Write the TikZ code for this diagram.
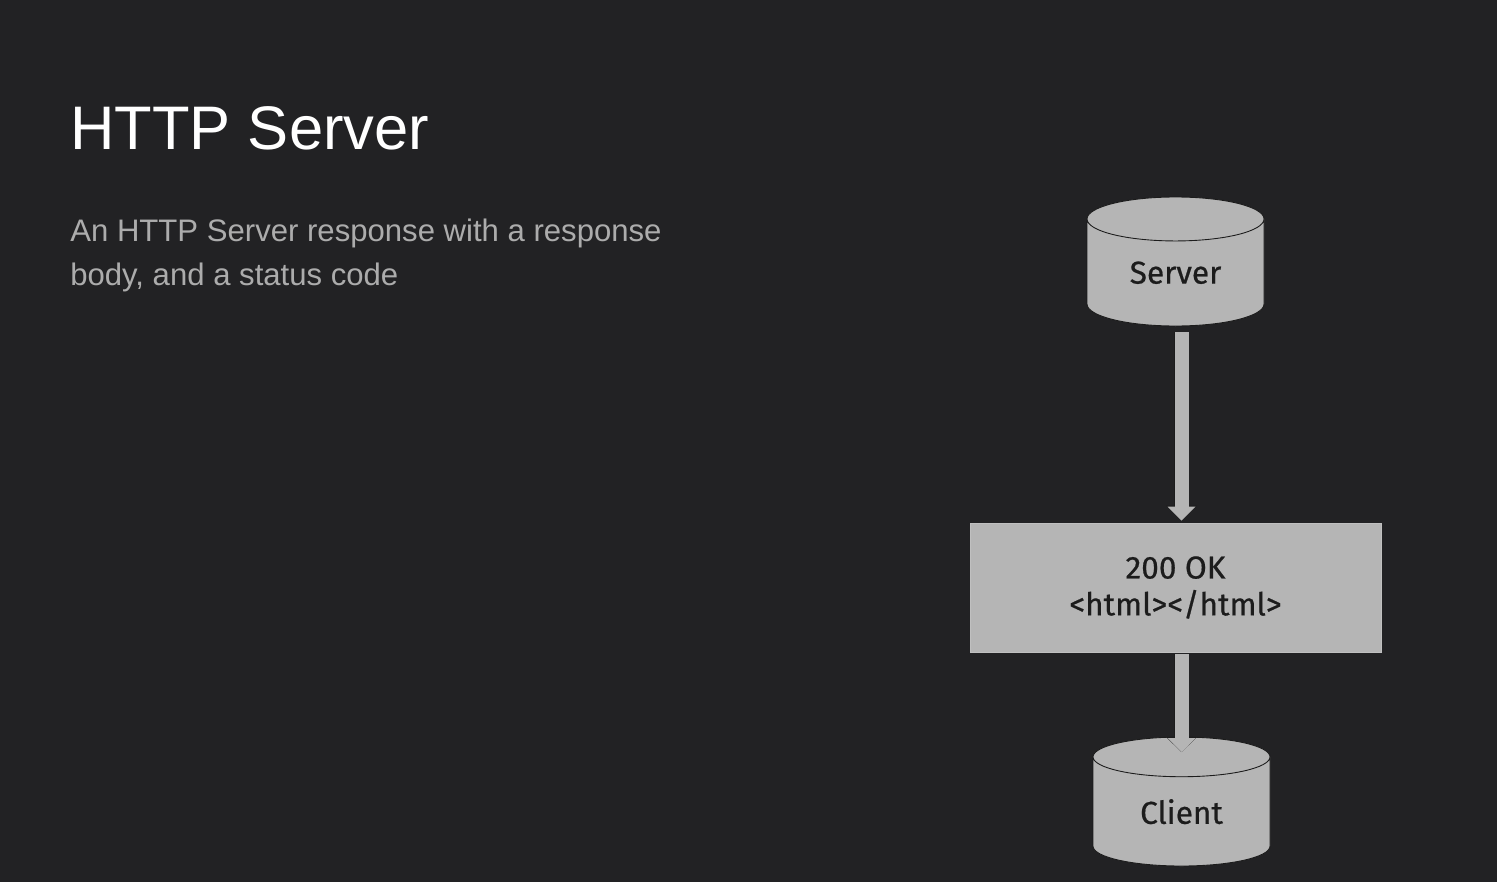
\documentclass[tikz,border=0pt]{standalone}
\usepackage{fontspec}
\setmainfont{Liberation Sans}
\newfontfamily\diagfont[FakeBold=0.6]{Fira Sans}
\usetikzlibrary{shapes.geometric, arrows.meta}
\definecolor{bgdark}{RGB}{34,34,36}
\definecolor{boxgray}{RGB}{181,181,181}
\definecolor{bodygray}{RGB}{172,172,172}
\definecolor{inkdark}{RGB}{28,28,28}

\begin{document}
\begin{tikzpicture}
		\tikzset{store/.style={shape=cylinder, shape border rotate=90, aspect=0.48, anchor=shape center, draw=inkdark, line width=0.5pt, cylinder uses custom fill, cylinder body fill=boxgray, cylinder end fill=boxgray, minimum width=3.54cm, minimum height=2.58cm, inner sep=0pt, text=inkdark, font=\diagfont\fontsize{18}{22}\selectfont}}
		\tikzset{message/.style={rectangle, fill=boxgray, draw=boxgray!85!white, minimum width=8.22cm, minimum height=2.58cm, align=center, text=inkdark, font=\diagfont\fontsize{18}{21}\selectfont}}
		\tikzset{response/.style={preaction={draw=inkdark, line width=0.31cm, -{Triangle[width=0.62cm, length=0.30cm, line width=0pt]}}, line width=0.28cm, boxgray, -{Triangle[width=0.56cm, length=0.28cm, line width=0pt]}}}
		
		\fill[bgdark] (0,0) rectangle (29.94,-17.64);
		\useasboundingbox (0,0) rectangle (29.94,-17.64);
		
		\node(title) at (1.4,-3.0) [anchor=base west, inner sep=0pt, text=white, font=\fontsize{35}{40}\selectfont] {HTTP Server};
		\node(desc) at (1.4,-5.70) [anchor=base west, inner sep=0pt, align=left, text=bodygray, font=\fontsize{17.7}{24.5}\selectfont] {An HTTP Server response with a response\\body, and a status code};
		
		\node(server) at (23.51,-5.23) [store] {Server};
		\node(box) at (23.51,-11.75) [message] {200 OK\\{<}html{>}{<}/html{>}};
		\node(client) at (23.63,-16.03) [store] {Client};
		
		\draw[response, shorten <=0.12cm, shorten >=0.04cm] (server.south -| client.center) -- (box.north -| client.center);
		\draw[response, shorten <=0.04cm, shorten >=0.99cm] (box.south -| client.center) -- (client.shape center);
\end{tikzpicture}
\end{document}
